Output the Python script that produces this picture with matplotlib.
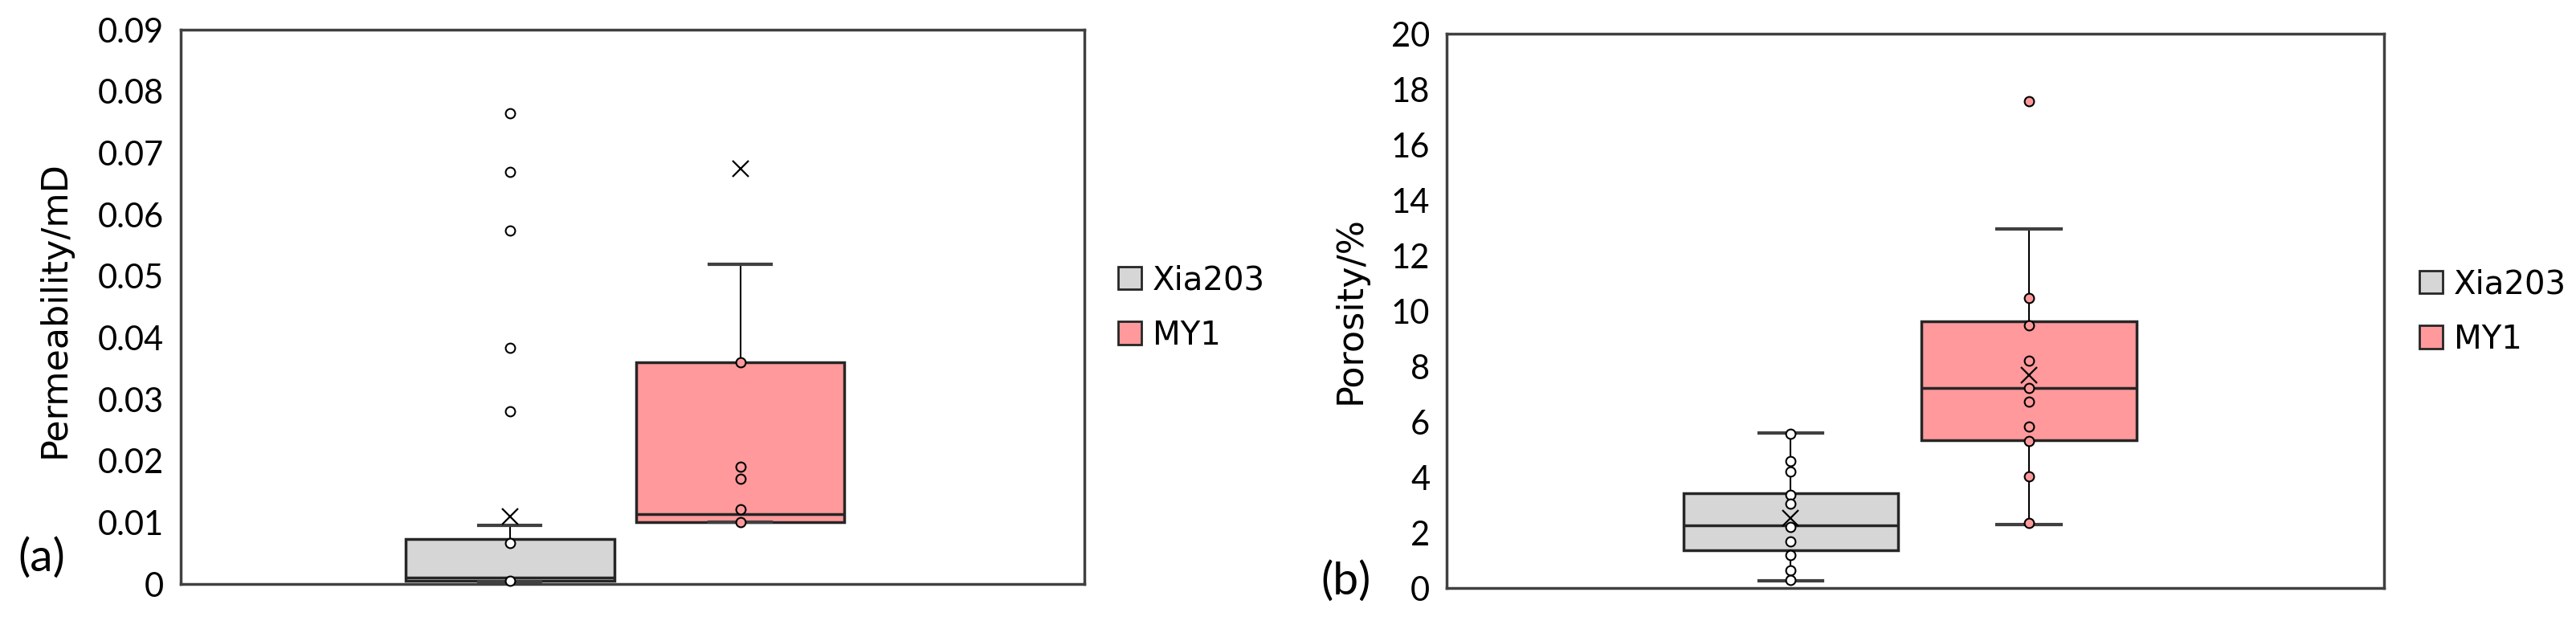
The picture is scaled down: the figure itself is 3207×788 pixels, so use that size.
import matplotlib
matplotlib.use('Agg')
import matplotlib.pyplot as plt
from matplotlib.patches import Patch

groups = ['Xia203', 'MY1']
fills = ['#d6d6d6', '#ff999b']
point_faces = ['white', '#ff999b']

# box summaries: q1, median, q3, lower whisker, upper whisker, mean
perm_xia_box = [0.0005, 0.0010, 0.0073, 0.0004, 0.0095, 0.0109]
perm_my1_box = [0.0100, 0.0113, 0.0360, 0.0100, 0.0519, 0.0675]
poro_xia_box = [1.38, 2.28, 3.43, 0.28, 5.60, 2.52]
poro_my1_box = [5.35, 7.22, 9.62, 2.30, 12.97, 7.70]

# individual samples shown as dots
perm_xia_pts = [0.0764, 0.0669, 0.0574, 0.0384, 0.0280, 0.0067, 0.0005]
perm_my1_pts = [0.0360, 0.0191, 0.0171, 0.0121, 0.0100]
poro_xia_pts = [5.58, 4.60, 4.22, 3.36, 3.06, 2.20, 1.70, 1.19, 0.65, 0.30]
poro_my1_pts = [17.58, 10.47, 9.50, 8.22, 7.22, 6.72, 5.84, 5.32, 4.05, 2.37]

perm_ticks = [0, 0.01, 0.02, 0.03, 0.04, 0.05, 0.06, 0.07, 0.08, 0.09]
perm_ticklabels = ['0', '0.01', '0.02', '0.03', '0.04', '0.05', '0.06', '0.07', '0.08', '0.09']
poro_ticks = [0, 2, 4, 6, 8, 10, 12, 14, 16, 18, 20]

TICK_FONT = 'Lato'
EDGE = '#262626'


def to_stats(b):
    return {'q1': b[0], 'med': b[1], 'q3': b[2], 'whislo': b[3], 'whishi': b[4],
            'mean': b[5], 'fliers': []}


def draw_panel(ax, boxes, points, positions, width, ylim, ticks, ticklabels, ylabel):
    bp = ax.bxp([to_stats(b) for b in boxes], positions=positions, widths=width,
                patch_artist=True, showmeans=True, showfliers=False,
                capwidths=0.068,
                boxprops=dict(edgecolor=EDGE, linewidth=2.5),
                medianprops=dict(color=EDGE, linewidth=2.5),
                whiskerprops=dict(color='black', linewidth=1.5),
                capprops=dict(color='#404040', linewidth=3),
                meanprops=dict(marker='x', markeredgecolor='black', markersize=15,
                               markeredgewidth=1.6))
    for patch, c in zip(bp['boxes'], fills):
        patch.set_facecolor(c)
    for pos, pts, face in zip(positions, points, point_faces):
        ax.plot([pos] * len(pts), pts, 'o', ms=8.5, mfc=face, mec='black', mew=1.5,
                zorder=4, clip_on=False)
    ax.set_xlim(0, 1)
    ax.set_ylim(*ylim)
    ax.set_xticks([])
    ax.set_yticks(ticks)
    ax.set_yticklabels(ticklabels, fontfamily=TICK_FONT, fontsize=30)
    ax.tick_params(axis='y', length=0, pad=15)
    for s in ax.spines.values():
        s.set_color('#404040')
        s.set_linewidth(2.5)
    ax.set_ylabel(ylabel, fontsize=32, fontfamily='DejaVu Sans', va='center')


fig = plt.figure(figsize=(32.07, 7.88), dpi=100)
ax1 = fig.add_axes([0.0702, 0.0774, 0.3508, 0.8753])
ax2 = fig.add_axes([0.5616, 0.0707, 0.3640, 0.8756])

draw_panel(ax1, [perm_xia_box, perm_my1_box], [perm_xia_pts, perm_my1_pts],
           [0.364, 0.619], 0.231, (0, 0.09), perm_ticks, perm_ticklabels, 'Permeability/mD')
ax1.yaxis.set_label_coords(-0.140, 0.496)

draw_panel(ax2, [poro_xia_box, poro_my1_box], [poro_xia_pts, poro_my1_pts],
           [0.367, 0.621], 0.229, (0, 20), poro_ticks, [str(t) for t in poro_ticks], 'Porosity/%')
ax2.yaxis.set_label_coords(-0.103, 0.502)

handles = [Patch(facecolor=c, edgecolor=EDGE, linewidth=2) for c in fills]
for xpos, ypos in [(0.4340, 0.5133), (0.9392, 0.507)]:
    fig.legend(handles, groups, loc='center left', bbox_to_anchor=(xpos, ypos),
               frameon=False, handlelength=0.72, handleheight=0.7,
               handletextpad=0.35, labelspacing=0.7, borderpad=0, borderaxespad=0,
               prop={'family': 'DejaVu Sans', 'size': 29})

fig.text(0.0162, 0.118, '(a)', fontsize=41, fontfamily=TICK_FONT, ha='center', va='center')
fig.text(0.5226, 0.0812, '(b)', fontsize=41, fontfamily=TICK_FONT, ha='center', va='center')

fig.savefig('out.png', dpi=100)
